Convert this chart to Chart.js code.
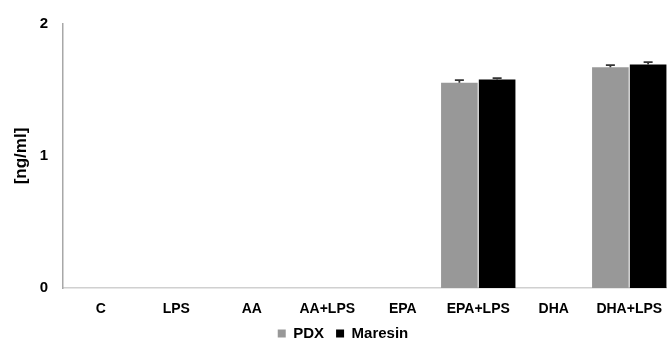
<!DOCTYPE html>
<html>
<head>
<meta charset="utf-8">
<script src="https://cdn.jsdelivr.net/npm/chart.js@4"></script>
<style>
  html, body { margin: 0; padding: 0; background: #ffffff; }
  #wrap { width: 667px; height: 341px; }
</style>
</head>
<body>
<div id="wrap"><canvas id="chart" width="667" height="341"></canvas></div>
<script>
// Treatment groups on the x axis
const categories = ['C', 'LPS', 'AA', 'AA+LPS', 'EPA', 'EPA+LPS', 'DHA', 'DHA+LPS'];

// Concentrations in ng/ml
const pdxValues     = [0, 0, 0, 0, 0, 1.555, 0, 1.672];
const maresinValues = [0, 0, 0, 0, 0, 1.580, 0, 1.693];

// Standard errors (upper whisker)
const pdxErrors     = [0, 0, 0, 0, 0, 0.020, 0, 0.016];
const maresinErrors = [0, 0, 0, 0, 0, 0.010, 0, 0.018];

// Y axis ticks
const yTicks = [0, 1, 2];

const FONT = "'Liberation Sans', Arial, sans-serif";

// Draws upward error whiskers with a cap on each bar
const errorBars = {
  id: 'errorBars',
  afterDatasetsDraw(chart) {
    const ctx = chart.ctx;
    const yScale = chart.scales.y;
    chart.data.datasets.forEach((ds, i) => {
      const meta = chart.getDatasetMeta(i);
      meta.data.forEach((bar, j) => {
        const err = ds.errors[j];
        if (!err) return;
        const yTop = yScale.getPixelForValue(ds.data[j] + err);
        const yBase = yScale.getPixelForValue(ds.data[j]);
        ctx.save();
        ctx.strokeStyle = '#333333';
        ctx.lineWidth = 1.8;
        ctx.beginPath();
        ctx.moveTo(bar.x, yBase);
        ctx.lineTo(bar.x, yTop);
        ctx.moveTo(bar.x - 4.5, yTop);
        ctx.lineTo(bar.x + 4.5, yTop);
        ctx.stroke();
        ctx.restore();
      });
    });
  }
};

new Chart(document.getElementById('chart'), {
  type: 'bar',
  data: {
    labels: categories,
    datasets: [
      { label: 'PDX', data: pdxValues, errors: pdxErrors, backgroundColor: '#989898', borderWidth: 0 },
      { label: 'Maresin', data: maresinValues, errors: maresinErrors, backgroundColor: '#000000', borderWidth: 0 }
    ]
  },
  options: {
    responsive: false,
    animation: false,
    layout: { padding: { left: 19, right: 0, top: 21, bottom: -10 } },
    datasets: { bar: { categoryPercentage: 1.0, barPercentage: 0.97 } },
    plugins: {
      tooltip: { enabled: false },
      legend: {
        position: 'bottom',
        labels: {
          boxWidth: 8,
          boxHeight: 8,
          padding: 12,
          color: '#000000',
          font: { family: FONT, size: 15, weight: 'bold' }
        }
      }
    },
    scales: {
      x: {
        grid: { display: false, drawTicks: false },
        border: { display: true, color: '#d0d0d0', width: 1.5 },
        ticks: {
          color: '#000000',
          padding: 13,
          maxRotation: 0,
          autoSkip: false,
          font: { family: FONT, size: 14, weight: 'bold' }
        },
        afterFit(scale) {
          scale.height = 26;
          // plot area runs right up to the canvas edge
          scale.paddingLeft = 0;
          scale.paddingRight = 0;
        }
      },
      y: {
        min: 0,
        max: 2,
        afterBuildTicks(scale) { scale.ticks = yTicks.map(v => ({ value: v })); },
        grid: { display: false, drawTicks: false },
        border: { display: true, color: '#a8a8a8', width: 1.5 },
        ticks: {
          color: '#000000',
          padding: 15,
          font: { family: FONT, size: 15, weight: 'bold' }
        },
        title: {
          display: true,
          text: '[ng/ml]',
          color: '#000000',
          padding: { top: -8, bottom: 0 },
          font: { family: FONT, size: 17, weight: 'bold' }
        },
        afterFit(scale) { scale.width = 44; }
      }
    }
  },
  plugins: [errorBars]
});
</script>
</body>
</html>
